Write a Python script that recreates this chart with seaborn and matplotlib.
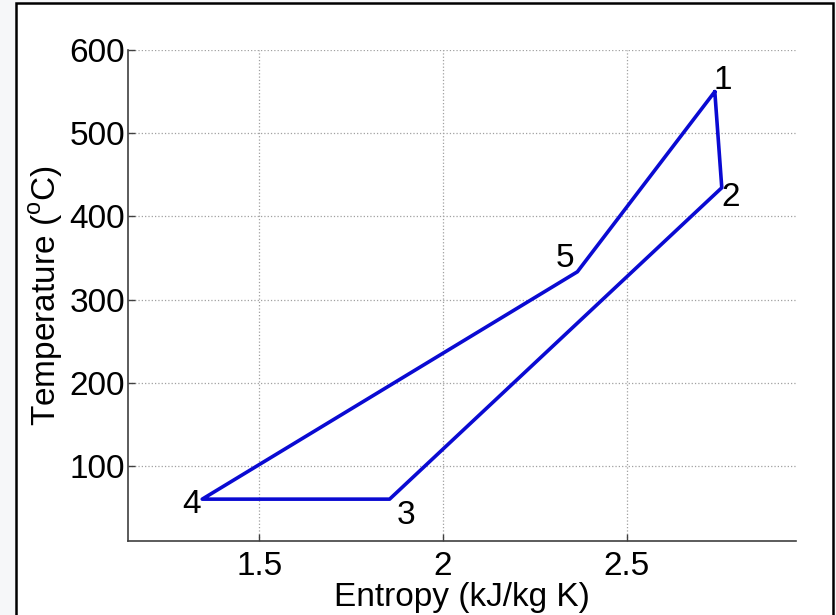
import matplotlib
matplotlib.use("Agg")
import matplotlib.pyplot as plt
import seaborn as sns
from matplotlib.patches import Rectangle

# cycle states
state_labels = ["1", "2", "3", "4", "5"]
entropy = [2.740, 2.759, 1.855, 1.345, 2.366]
temperature = [550, 434.5, 60.3, 60.3, 333.5]

# closed loop 1-2-3-4-5-1
s_loop = entropy + [entropy[0]]
t_loop = temperature + [temperature[0]]

x_ticks = [1.5, 2, 2.5]
y_ticks = [100, 200, 300, 400, 500, 600]

sns.set_theme(style="white")
plt.rcParams["font.family"] = ["Liberation Sans", "DejaVu Sans"]
plt.rcParams["mathtext.fontset"] = "custom"
plt.rcParams["mathtext.rm"] = "Liberation Sans"
plt.rcParams["text.color"] = "black"
plt.rcParams["axes.labelcolor"] = "black"
plt.rcParams["xtick.color"] = "black"
plt.rcParams["ytick.color"] = "black"

fs = 24

fig = plt.figure(figsize=(8.36, 6.15), dpi=100, facecolor="#f6f7f9")
# white frame with black border like the screenshot
fig.patches.append(Rectangle((16 / 836, -0.05), (833 - 16) / 836, 1.05 - 3.5 / 615,
                             transform=fig.transFigure, facecolor="white",
                             edgecolor="black", linewidth=1.8, zorder=-1))
ax = fig.add_axes([128 / 836, 1 - 541 / 615, (796 - 128) / 836, (541 - 50) / 615])
ax.set_facecolor("white")

sns.lineplot(x=s_loop, y=t_loop, sort=False, estimator=None, ax=ax,
             color="#0a0ad2", linewidth=2.6)

# state numbers
offsets = [(8, 11), (9, -10), (16, -16), (-11, -5), (-12, 13)]
for lab, s, t, off in zip(state_labels, entropy, temperature, offsets):
    ax.annotate(lab, (s, t), xytext=off, textcoords="offset pixels",
                ha="center", va="center", fontsize=fs, color="black")

ax.set_xlim(1.143, 2.961)
ax.set_ylim(10, 600)
ax.set_xticks(x_ticks)
ax.set_xticklabels(["1.5", "2", "2.5"])
ax.set_yticks(y_ticks)
ax.grid(True, linestyle=":", color="#a0a0a0", linewidth=0.9)
ax.tick_params(axis="x", direction="in", length=5, width=1, color="#404040",
               labelsize=fs, labelcolor="black", pad=7, bottom=True)
ax.tick_params(axis="y", direction="in", length=5, width=1, color="#404040",
               labelsize=fs, labelcolor="black", pad=2, left=True)

for side in ["top", "right"]:
    ax.spines[side].set_visible(False)
for side in ["left", "bottom"]:
    ax.spines[side].set_color("#404040")
    ax.spines[side].set_linewidth(1.2)

ax.set_xlabel("Entropy (kJ/kg K)", fontsize=fs, labelpad=0)
ax.set_ylabel(r"Temperature ($^{\rm o}$C)", fontsize=fs, labelpad=3)

fig.savefig("out.png", dpi=100, facecolor=fig.get_facecolor())
